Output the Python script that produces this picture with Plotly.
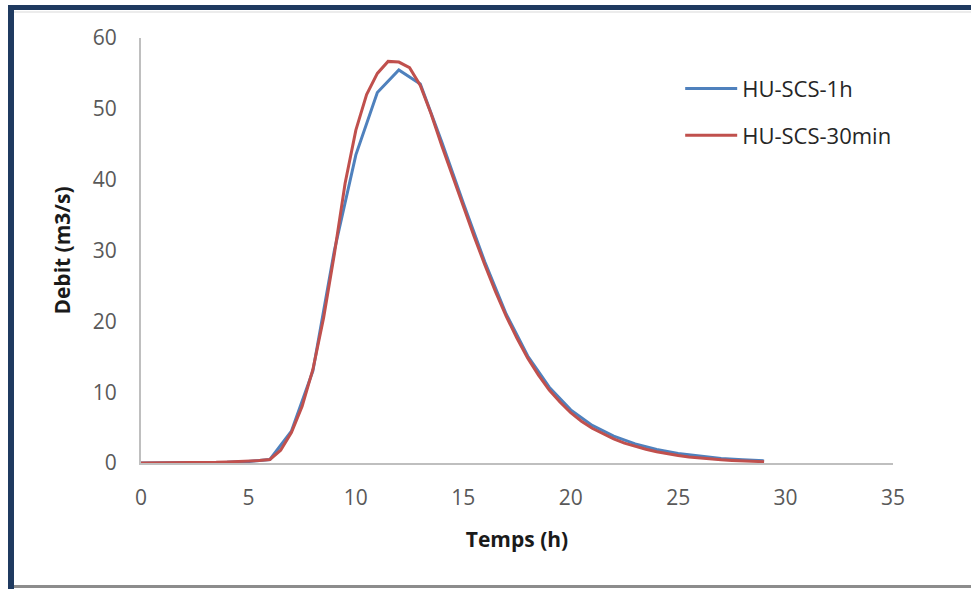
import plotly.graph_objects as go

# Hydrogramme unitaire SCS : pas de temps 1 h
t_1h = list(range(0, 30))
q_1h = [0, 0, 0, 0.1, 0.1, 0.2, 0.5, 4.5, 13.0, 30.0,
        43.5, 52.3, 55.5, 53.5, 45.3, 36.7, 28.4, 21.0, 15.1, 10.7,
        7.5, 5.3, 3.8, 2.7, 1.9, 1.35, 0.95, 0.65, 0.45, 0.3]

# Hydrogramme unitaire SCS : pas de temps 30 min
t_30min = [i * 0.5 for i in range(0, 59)]
q_30min = [0, 0, 0, 0, 0, 0.05, 0.1, 0.1, 0.15, 0.2,
           0.25, 0.35, 0.5, 1.8, 4.3, 8.0, 13.2, 20.5, 29.5, 39.5,
           47.0, 52.0, 55.0, 56.7, 56.6, 55.8, 53.3, 49.3, 44.8, 40.5,
           36.2, 32.0, 28.0, 24.2, 20.7, 17.6, 14.8, 12.4, 10.3, 8.6,
           7.1, 5.9, 4.9, 4.1, 3.4, 2.8, 2.35, 1.95, 1.6, 1.3,
           1.05, 0.85, 0.7, 0.56, 0.45, 0.36, 0.29, 0.23, 0.18]

x_ticks = [0, 5, 10, 15, 20, 25, 30, 35]
y_ticks = [0, 10, 20, 30, 40, 50, 60]

BLUE = "#4f81bd"
RED = "#c0504d"
AXIS = "#bfbfbf"
FONT = "Open Sans"

fig = go.Figure()
fig.add_trace(go.Scatter(x=t_1h, y=q_1h, mode="lines", name="HU-SCS-1h",
                         legendgroup="a",
                         line=dict(color=BLUE, width=3)))
fig.add_trace(go.Scatter(x=t_30min, y=q_30min, mode="lines", name="HU-SCS-30min",
                         legendgroup="b",
                         line=dict(color=RED, width=3)))

fig.update_layout(
    width=971, height=589,
    margin=dict(l=141, r=78, t=38, b=126),
    paper_bgcolor="white", plot_bgcolor="white",
    font=dict(family=FONT, color="#595959", size=20),
    showlegend=True,
    legend=dict(x=0.717, y=0.93, xanchor="left", yanchor="top",
                font=dict(family=FONT, size=22, color="#262626"),
                bgcolor="rgba(0,0,0,0)", tracegroupgap=15, itemwidth=52),
    xaxis=dict(range=[0, 35], tickvals=x_ticks, showgrid=False, zeroline=False,
               showline=True, linecolor=AXIS, linewidth=2, ticks="",
               ticklabelstandoff=15,
               tickfont=dict(family=FONT, size=21, color="#595959"),
               title=dict(text="<b>Temps (h)</b>", standoff=22,
                          font=dict(family=FONT, size=21, color="#1a1a1a"))),
    yaxis=dict(range=[0, 60], tickvals=y_ticks, showgrid=False, zeroline=False,
               showline=True, linecolor=AXIS, linewidth=2, ticks="",
               ticklabelstandoff=18,
               tickfont=dict(family=FONT, size=21, color="#595959"),
               title=dict(text="<b>Debit (m3/s)</b>", standoff=16,
                          font=dict(family=FONT, size=21, color="#1a1a1a"))),
)

# Cadre autour de la figure (paper coords relatifs à la zone de tracé)
W_PLOT, H_PLOT = 971 - 141 - 78, 589 - 38 - 126


def px_x(px):
    return (px - 141) / W_PLOT


def px_y(py):
    return (589 - 126 - py) / H_PLOT


frame = [
    # bande supérieure bleu foncé
    dict(x0=px_x(8), x1=px_x(975), y0=px_y(10), y1=px_y(5), color="#1f3a60"),
    # bande gauche bleu foncé
    dict(x0=px_x(8), x1=px_x(14), y0=px_y(595), y1=px_y(5), color="#1f3a60"),
    # liseré clair sous la bande supérieure
    dict(x0=px_x(14), x1=px_x(975), y0=px_y(13), y1=px_y(11), color="#ececec"),
    # trait gris inférieur
    dict(x0=px_x(14), x1=px_x(975), y0=px_y(588), y1=px_y(585), color="#8c8c8c"),
]
for f in frame:
    fig.add_shape(type="rect", xref="paper", yref="paper",
                  x0=f["x0"], x1=f["x1"], y0=f["y0"], y1=f["y1"],
                  fillcolor=f["color"], line=dict(width=0), layer="above")

fig.write_html("out.html")
